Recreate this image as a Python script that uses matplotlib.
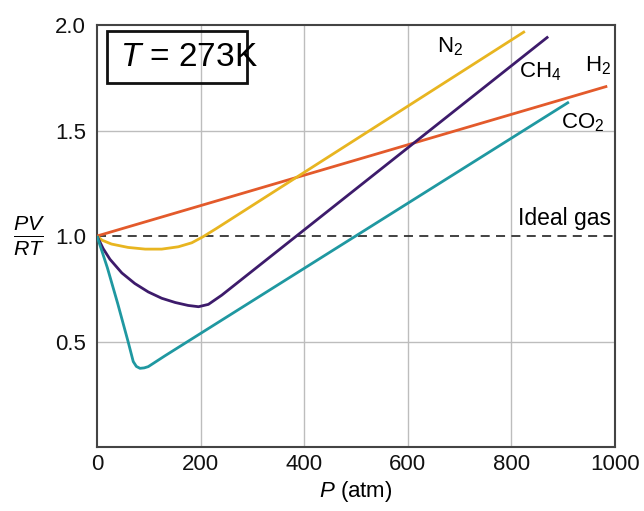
import matplotlib
matplotlib.use("Agg")
import matplotlib.pyplot as plt
from matplotlib.patches import Rectangle

plt.rcParams['font.family'] = ['Liberation Sans', 'DejaVu Sans']
plt.rcParams['mathtext.fontset'] = 'custom'
plt.rcParams['mathtext.rm'] = 'Liberation Sans'
plt.rcParams['mathtext.it'] = 'Liberation Sans:italic'

# Data (P in atm, PV/RT)
h2_p = [0, 985]
h2_z = [1.0, 1.71]

n2_p = [0, 10, 28, 60, 93, 125, 157, 183, 205, 230, 826]
n2_z = [1.0, 0.98, 0.962, 0.946, 0.938, 0.938, 0.949, 0.968, 0.997, 1.035, 1.97]

ch4_p = [0, 12, 25, 48, 73, 99, 125, 151, 176, 196, 215, 241, 871]
ch4_z = [1.0, 0.94, 0.89, 0.825, 0.775, 0.735, 0.705, 0.685, 0.671, 0.665, 0.676, 0.72, 1.945]

co2_p = [0, 20, 40, 60, 70, 76, 83, 91, 99, 131, 911]
co2_z = [1.0, 0.85, 0.68, 0.50, 0.405, 0.382, 0.373, 0.375, 0.381, 0.432, 1.635]

x_ticks = [0, 200, 400, 600, 800, 1000]
y_ticks = [0.5, 1.0, 1.5, 2.0]

fig = plt.figure(figsize=(6.44, 5.11), dpi=100)
ax = fig.add_axes([0.1506, 0.1252, 0.8044, 0.8258])
ax.set_xlim(0, 1000)
ax.set_ylim(0, 2.0)

for gx in [200, 400, 600, 800]:
    ax.axvline(gx, color='#bdbdbd', lw=1.0, zorder=0)
for gy in [0.5, 1.5]:
    ax.axhline(gy, color='#bdbdbd', lw=1.0, zorder=0)
ax.axhline(1.0, color='#333333', lw=1.3, dashes=(5, 3.5), zorder=1)

kw = dict(lw=2.0, solid_joinstyle='round', solid_capstyle='butt', zorder=3)
ax.plot(h2_p, h2_z, color='#E35A2B', **kw)
ax.plot(n2_p, n2_z, color='#E8B520', **kw)
ax.plot(ch4_p, ch4_z, color='#3D1B6B', **kw)
ax.plot(co2_p, co2_z, color='#1F98A1', **kw)

ax.set_xticks(x_ticks)
ax.set_xticklabels([str(v) for v in x_ticks])
ax.set_yticks(y_ticks)
ax.set_yticklabels([f"{v:.1f}" for v in y_ticks])
ax.tick_params(axis='both', length=0, labelsize=16, colors='#111111')
ax.tick_params(axis='x', pad=5)
ax.tick_params(axis='y', pad=8)

for s in ax.spines.values():
    s.set_color('#444444')
    s.set_linewidth(1.5)

ax.set_xlabel(r'$P$ (atm)', fontsize=16, labelpad=3)

fig.text(29/644, 1 - 236/511, r'$\frac{PV}{RT}$', fontsize=22, ha='center', va='center')

# Labels
ax.text(681, 1.895, r'N$_2$', fontsize=16, ha='center', va='center')
ax.text(855, 1.78, r'CH$_4$', fontsize=16, ha='center', va='center')
ax.text(967, 1.805, r'H$_2$', fontsize=16, ha='center', va='center')
ax.text(938, 1.535, r'CO$_2$', fontsize=16, ha='center', va='center')
ax.text(903, 1.085, 'Ideal gas', fontsize=16.5, ha='center', va='center')

# T box
box = Rectangle((107/644, 1 - 83/511), (247 - 107)/644, (83 - 31)/511,
                transform=fig.transFigure, fill=False, ec='#111111', lw=2.0, zorder=5)
fig.patches.append(box)
fig.text(120/644, 1 - 58/511, r'$T$ = 273K', fontsize=24, ha='left', va='center', zorder=6)

fig.savefig('out.png', dpi=100)
